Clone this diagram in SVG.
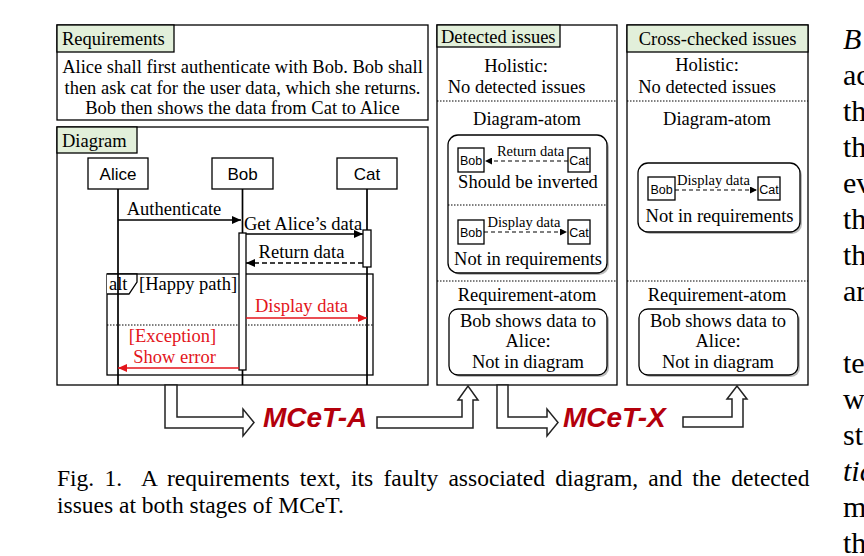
<svg xmlns="http://www.w3.org/2000/svg" width="864" height="556" viewBox="0 0 864 556">
<defs>
<style>
.t{font-family:"Liberation Serif","Times New Roman",serif;font-size:18.5px;fill:#000}
.c{text-anchor:middle}
.sm{font-size:14.5px}
.s{font-family:"Liberation Sans",Arial,sans-serif}
.red{fill:#e3151b}
.box{fill:#fff;stroke:#000;stroke-width:1.3}
.lbl{fill:#e2efda;stroke:#000;stroke-width:1.3}
.ln{stroke:#000;stroke-width:1.7;fill:none}
.dot{stroke:#000;stroke-width:1;stroke-dasharray:1.5 1.5;fill:none}
.big{fill:#fff;stroke:#222;stroke-width:1.5}
.mc{font-family:"Liberation Sans",Arial,sans-serif;font-weight:bold;font-style:italic;font-size:28px;fill:#b4000c}
.rt{font-family:"Liberation Serif","Times New Roman",serif;font-size:30px;fill:#000}
.cap{font-family:"Liberation Serif","Times New Roman",serif;font-size:23.5px;fill:#000}
</style>
<marker id="ah" markerWidth="10" markerHeight="8" refX="9" refY="4" orient="auto" markerUnits="userSpaceOnUse"><path d="M0,0 L9,4 L0,8 z" fill="#000"/></marker>
<marker id="ahr" markerWidth="10" markerHeight="8" refX="9" refY="4" orient="auto" markerUnits="userSpaceOnUse"><path d="M0,0 L9,4 L0,8 z" fill="#e3151b"/></marker>
<marker id="ahs" markerWidth="8" markerHeight="7" refX="7" refY="3.5" orient="auto" markerUnits="userSpaceOnUse"><path d="M0,0 L7,3.5 L0,7 z" fill="#000"/></marker>
</defs>
<rect width="864" height="556" fill="#fff"/>

<g id="requirements">
<rect class="box" x="57" y="25" width="371" height="95"/>
<rect class="lbl" x="57" y="25" width="117" height="27"/>
<text class="t" x="62" y="45">Requirements</text>
<text class="t c" x="242.5" y="73">Alice shall first authenticate with Bob. Bob shall</text>
<text class="t c" x="242.5" y="94">then ask cat for the user data, which she returns.</text>
<text class="t c" x="242.5" y="114">Bob then shows the data from Cat to Alice</text>
</g>

<g id="diagram">
<rect class="box" x="57" y="127" width="371" height="258"/>
<rect class="lbl" x="57" y="127" width="80" height="26"/>
<text class="t" x="62" y="147">Diagram</text>
</g>

<g id="alice">
<rect class="box" x="88" y="158" width="60" height="31"/>
<text class="s c" x="118" y="180" font-size="17">Alice</text>
</g>
<g id="bob">
<rect class="box" x="212" y="158" width="61" height="31"/>
<text class="s c" x="242.5" y="180" font-size="17">Bob</text>
</g>
<g id="cat">
<rect class="box" x="337" y="158" width="60" height="31"/>
<text class="s c" x="367" y="180" font-size="17">Cat</text>
</g>

<g id="alt-frame">
<rect x="107" y="274" width="266" height="101" fill="none" stroke="#000" stroke-width="1.3"/>
<path d="M107,274 L137,274 L137,282 L129,294 L107,294" fill="#fff" stroke="#000" stroke-width="1.3"/>
<text class="t" x="109" y="290">alt</text>
<text class="t" x="139" y="290">[Happy path]</text>
<line class="dot" x1="107" y1="325" x2="373" y2="325"/>
<text class="t c red" x="172.5" y="342">[Exception]</text>
</g>

<g id="connectors">
<line class="ln" x1="118" y1="189" x2="118" y2="385"/>
<line class="ln" x1="242.5" y1="189" x2="242.5" y2="385"/>
<line class="ln" x1="367" y1="189" x2="367" y2="385"/>
<rect class="box" x="239" y="233" width="7" height="137"/>
<rect class="box" x="363" y="230" width="8" height="37"/>
<line x1="118" y1="220" x2="241" y2="220" stroke="#000" stroke-width="1.3" marker-end="url(#ah)"/>
<line x1="246" y1="234" x2="363" y2="234" stroke="#000" stroke-width="1.3" marker-end="url(#ah)"/>
<line x1="363" y1="263" x2="246" y2="263" stroke="#000" stroke-width="1.3" stroke-dasharray="5 3" marker-end="url(#ah)"/>
<line x1="246" y1="318" x2="367" y2="318" stroke="#e3151b" stroke-width="1.3" marker-end="url(#ahr)"/>
<line x1="239" y1="368" x2="118" y2="368" stroke="#e3151b" stroke-width="1.3" marker-end="url(#ahr)"/>
<text class="t c" x="174" y="215">Authenticate</text>
<text class="t" x="244" y="230">Get Alice’s data</text>
<text class="t c" x="301.5" y="258">Return data</text>
<text class="t c red" x="301.5" y="312">Display data</text>
<text class="t c red" x="174.5" y="363">Show error</text>
</g>

<g id="detected">
<rect class="box" x="437" y="25" width="180" height="360"/>
<rect class="lbl" x="437" y="25" width="123" height="22"/>
<text class="t" x="441" y="43">Detected issues</text>
<text class="t c" x="516" y="72">Holistic:</text>
<text class="t c" x="516.5" y="93">No detected issues</text>
<line class="dot" x1="437" y1="101" x2="617" y2="101"/>
<text class="t c" x="527" y="125">Diagram-atom</text>
<rect x="450" y="137" width="159" height="138" rx="10" fill="#bbb"/>
<rect class="box" x="448" y="135" width="159" height="138" rx="10"/>
<line class="dot" x1="448" y1="205" x2="607" y2="205"/>
<rect class="box" x="458" y="148" width="26" height="24"/>
<text class="s c" x="471" y="165" font-size="12.5">Bob</text>
<rect class="box" x="568" y="148" width="22" height="24"/>
<text class="s c" x="579" y="165" font-size="12.5">Cat</text>
<text class="t c sm" x="530.5" y="156">Return data</text>
<line x1="568" y1="161" x2="485" y2="161" stroke="#000" stroke-width="1.2" stroke-dasharray="4 3" marker-end="url(#ahs)"/>
<text class="t c" x="528" y="188">Should be inverted</text>
<rect class="box" x="458" y="220" width="26" height="24"/>
<text class="s c" x="471" y="237" font-size="12.5">Bob</text>
<rect class="box" x="568" y="220" width="22" height="24"/>
<text class="s c" x="579" y="237" font-size="12.5">Cat</text>
<text class="t c sm" x="524" y="227">Display data</text>
<line x1="484" y1="232" x2="567" y2="232" stroke="#000" stroke-width="1.2" stroke-dasharray="4 3" marker-end="url(#ahs)"/>
<text class="t c" x="528" y="265">Not in requirements</text>
<line class="dot" x1="437" y1="281" x2="617" y2="281"/>
<text class="t c" x="527" y="301">Requirement-atom</text>
<rect x="451" y="311" width="158" height="66" rx="9" fill="#bbb"/>
<rect class="box" x="449" y="309" width="158" height="66" rx="9"/>
<text class="t c" x="528" y="327">Bob shows data to</text>
<text class="t c" x="528" y="347">Alice:</text>
<text class="t c" x="528" y="368">Not in diagram</text>
</g>

<g id="cross-checked">
<rect class="box" x="627" y="25" width="181" height="360"/>
<rect class="lbl" x="627" y="25" width="181" height="27"/>
<text class="t c" x="717.5" y="45">Cross-checked issues</text>
<text class="t c" x="707" y="71">Holistic:</text>
<text class="t c" x="707" y="93">No detected issues</text>
<line class="dot" x1="627" y1="101" x2="808" y2="101"/>
<text class="t c" x="717" y="125">Diagram-atom</text>
<rect x="640" y="165" width="162" height="69" rx="10" fill="#bbb"/>
<rect class="box" x="638" y="163" width="162" height="69" rx="10"/>
<rect class="box" x="648" y="177" width="27" height="23"/>
<text class="s c" x="661.5" y="193.5" font-size="12.5">Bob</text>
<rect class="box" x="758" y="177" width="22" height="23"/>
<text class="s c" x="769" y="193.5" font-size="12.5">Cat</text>
<text class="t c sm" x="713.5" y="185">Display data</text>
<line x1="675" y1="190" x2="757" y2="190" stroke="#000" stroke-width="1.2" stroke-dasharray="4 3" marker-end="url(#ahs)"/>
<text class="t c" x="719.5" y="222">Not in requirements</text>
<line class="dot" x1="627" y1="281" x2="808" y2="281"/>
<text class="t c" x="717" y="301">Requirement-atom</text>
<rect x="641" y="311" width="159" height="66" rx="9" fill="#bbb"/>
<rect class="box" x="639" y="309" width="159" height="66" rx="9"/>
<text class="t c" x="718" y="327">Bob shows data to</text>
<text class="t c" x="718" y="347">Alice:</text>
<text class="t c" x="718" y="368">Not in diagram</text>
</g>

<g id="flow-arrows">
<polygon class="big" points="165,385 165,428 243,428 243,436 254,422.5 243,409 243,417 177,417 177,385"/>
<text class="mc" x="263" y="427">MCeT-A</text>
<polygon class="big" points="377,417 462,417 462,400 458,400 468,386 478,400 473,400 473,428 377,428"/>
<polygon class="big" points="497,385 497,428 547,428 547,436 558,422.5 547,409 547,417 508,417 508,385"/>
<text class="mc" x="563" y="427">MCeT-X</text>
<polygon class="big" points="683,417 732,417 732,399 727,399 737,386 747,399 743,399 743,427 683,427"/>
</g>

<g id="caption">
<text class="cap" x="57" y="486" word-spacing="4.3">Fig. 1.&#160; A requirements text, its faulty associated diagram, and the detected</text>
<text class="cap" x="57" y="513">issues at both stages of MCeT.</text>
</g>

<g id="right-column">
<text class="rt" x="843" y="49" font-style="italic">B</text>
<text class="rt" x="843" y="85">ac</text>
<text class="rt" x="843" y="121">th</text>
<text class="rt" x="843" y="157">th</text>
<text class="rt" x="843" y="193">ev</text>
<text class="rt" x="843" y="229">th</text>
<text class="rt" x="843" y="265">th</text>
<text class="rt" x="843" y="301">ar</text>
<text class="rt" x="843" y="373">te</text>
<text class="rt" x="843" y="409">w</text>
<text class="rt" x="843" y="445">st</text>
<text class="rt" x="843" y="481" font-style="italic">tic</text>
<text class="rt" x="843" y="517">m</text>
<text class="rt" x="843" y="553">th</text>
</g>
</svg>
